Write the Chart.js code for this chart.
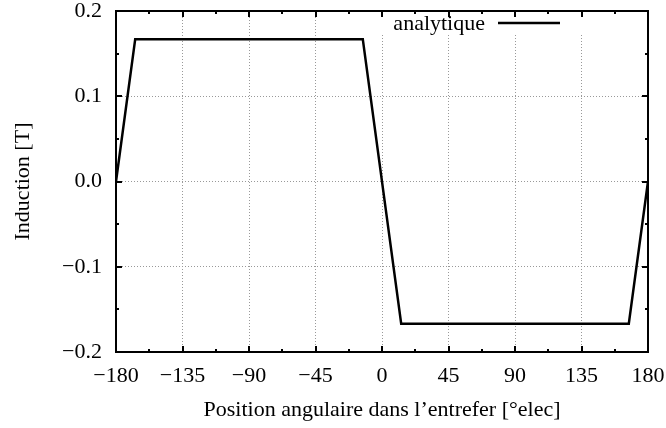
<!DOCTYPE html>
<html><head><meta charset="utf-8">
<script src="https://cdn.jsdelivr.net/npm/chart.js@4/dist/chart.umd.min.js"></script>
<style>html,body{margin:0;padding:0;background:#fff}#wrap{width:666px;height:428px}</style>
</head><body><div id="wrap"><canvas id="c" width="666" height="428"></canvas></div>
<script>
const angles = [-180, -167, -13, 13, 167, 180];
const induction = [0, 0.167, 0.167, -0.167, -0.167, 0];
const seriesLabel = 'analytique';
const xTicks = [-180, -135, -90, -45, 0, 45, 90, 135, 180];
const yTicks = [-0.2, -0.1, 0.0, 0.1, 0.2];
const xTitle = 'Position angulaire dans l\u2019entrefer [\u00B0elec]';
const yTitle = 'Induction [T]';

const FONT = '"Liberation Serif", "Times New Roman", serif';
const FS = 22;
const minus = s => String(s).replace('-', '\u2212');

const framePlugin = {
  id: 'frame',
  afterDraw(chart) {
    const ctx = chart.ctx, a = chart.chartArea;
    const xs = chart.scales.x, ys = chart.scales.y;
    ctx.save();
    ctx.fillStyle = '#fff';
    ctx.fillRect(380, a.top + 1, 212, 22);
    ctx.fillStyle = '#000';
    ctx.font = FS + 'px ' + FONT;
    ctx.textAlign = 'right';
    ctx.textBaseline = 'alphabetic';
    ctx.fillText(seriesLabel, 485, a.top + 19);
    ctx.strokeStyle = '#000';
    ctx.lineWidth = 2.5;
    ctx.beginPath(); ctx.moveTo(498, a.top + 12); ctx.lineTo(560, a.top + 12); ctx.stroke();
    ctx.lineWidth = 2;
    ctx.beginPath();
    for (let v = -180; v <= 180.001; v += 22.5) {
      const major = Math.abs(v / 45 - Math.round(v / 45)) < 1e-6;
      const L = major ? 6 : 3;
      const px = Math.round(xs.getPixelForValue(v));
      ctx.moveTo(px, a.bottom); ctx.lineTo(px, a.bottom - L);
      ctx.moveTo(px, a.top); ctx.lineTo(px, a.top + L);
    }
    for (let i = -4; i <= 4; i++) {
      const L = i % 2 === 0 ? 6 : 3;
      const py = Math.round(ys.getPixelForValue(i * 0.05));
      ctx.moveTo(a.left, py); ctx.lineTo(a.left + L, py);
      ctx.moveTo(a.right, py); ctx.lineTo(a.right - L, py);
    }
    ctx.stroke();
    ctx.strokeRect(a.left, a.top, a.right - a.left, a.bottom - a.top);
    ctx.restore();
  }
};

new Chart(document.getElementById('c'), {
  type: 'scatter',
  data: {
    datasets: [{
      label: seriesLabel,
      data: angles.map((x, i) => ({x, y: induction[i]})),
      showLine: true,
      borderColor: '#000',
      borderWidth: 2.5,
      pointRadius: 0,
      fill: false,
      tension: 0
    }]
  },
  options: {
    responsive: false,
    animation: false,
    devicePixelRatio: 1,
    layout: { padding: { left: 0, top: 11, right: 18, bottom: 0 } },
    plugins: { legend: { display: false }, tooltip: { enabled: false } },
    scales: {
      x: {
        type: 'linear', min: -180, max: 180,
        afterBuildTicks: s => { s.ticks = xTicks.map(v => ({value: v})); },
        afterFit: s => { s.height = 76; s.paddingLeft = 0; s.paddingRight = 0; },
        grid: { color: '#999', lineWidth: 1, drawTicks: false },
        border: { display: false, dash: [1, 2] },
        ticks: { color: '#000', font: { family: FONT, size: FS }, padding: 11, maxRotation: 0,
                 callback: v => minus(v) },
        title: { display: true, text: xTitle, color: '#000', font: { family: FONT, size: FS },
                 padding: { top: 0, bottom: 5 } }
      },
      y: {
        type: 'linear', min: -0.2, max: 0.2,
        afterBuildTicks: s => { s.ticks = yTicks.map(v => ({value: v})); },
        afterFit: s => { s.width = 116; s.paddingTop = 0; s.paddingBottom = 0; },
        grid: { color: '#999', lineWidth: 1, drawTicks: false },
        border: { display: false, dash: [1, 2] },
        ticks: { color: '#000', font: { family: FONT, size: FS }, padding: 14,
                 callback: v => minus(Number(v).toFixed(1)) },
        title: { display: true, text: yTitle, color: '#000', font: { family: FONT, size: FS },
                 padding: { top: 10, bottom: 0 } }
      }
    }
  },
  plugins: [framePlugin]
});
</script></body></html>
